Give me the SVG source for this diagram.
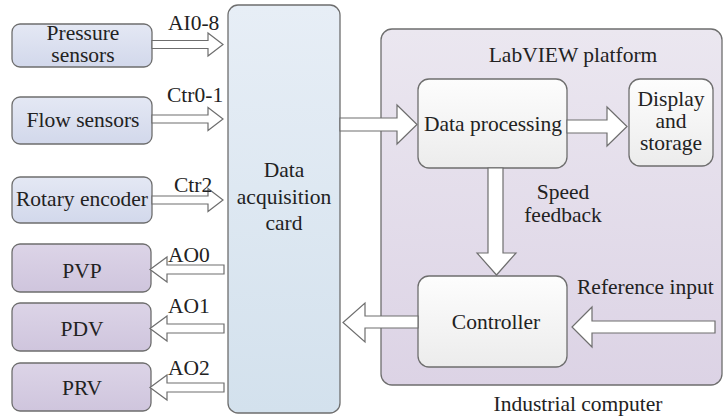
<svg xmlns="http://www.w3.org/2000/svg" width="727" height="420" viewBox="0 0 727 420">
<defs>
<linearGradient id="gBlue" x1="0" y1="0" x2="0" y2="1"><stop offset="0" stop-color="#e4e8f4"/><stop offset="1" stop-color="#d2d8eb"/></linearGradient>
<linearGradient id="gLav" x1="0" y1="0" x2="0" y2="1"><stop offset="0" stop-color="#dcd4e7"/><stop offset="1" stop-color="#cfc5dd"/></linearGradient>
<linearGradient id="gDaq" x1="0" y1="0" x2="0" y2="1"><stop offset="0" stop-color="#e7eef6"/><stop offset="1" stop-color="#d3e1ed"/></linearGradient>
<linearGradient id="gPc" x1="0" y1="0" x2="0" y2="1"><stop offset="0" stop-color="#ebe7f0"/><stop offset="1" stop-color="#dcd3e5"/></linearGradient>
<linearGradient id="gWhite" x1="0" y1="0" x2="0" y2="1"><stop offset="0" stop-color="#fdfdfd"/><stop offset="1" stop-color="#ececec"/></linearGradient>
</defs>
<style>
.box{stroke:#6e6e6e;stroke-width:1.3}
text{font-family:'Liberation Serif','Times New Roman',serif;font-size:21.5px;fill:#222}
.m{text-anchor:middle}
.arr{fill:#ffffff;stroke:#6e6e6e;stroke-width:1.2;stroke-linejoin:miter}
</style>

<g id="industrial-computer">
<rect class="box" x="381" y="29" width="341" height="356" rx="11" fill="url(#gPc)"/>
<text class="m" x="573" y="62">LabVIEW platform</text>
<text class="m" x="578" y="411">Industrial computer</text>
</g>

<g id="pressure-sensors">
<rect class="box" x="12" y="24" width="140" height="43" rx="8" fill="url(#gBlue)"/>
<text class="m" x="83" y="40">Pressure</text>
<text class="m" x="83" y="62">sensors</text>
</g>
<g id="flow-sensors">
<rect class="box" x="12" y="97" width="140" height="47" rx="8" fill="url(#gBlue)"/>
<text class="m" x="83" y="127">Flow sensors</text>
</g>
<g id="rotary-encoder">
<rect class="box" x="12" y="177" width="140" height="46" rx="8" fill="url(#gBlue)"/>
<text class="m" x="82" y="206">Rotary encoder</text>
</g>
<g id="pvp">
<rect class="box" x="12" y="244" width="139" height="48" rx="8" fill="url(#gLav)"/>
<text class="m" x="82" y="278">PVP</text>
</g>
<g id="pdv">
<rect class="box" x="12" y="303" width="139" height="48" rx="8" fill="url(#gLav)"/>
<text class="m" x="82" y="336">PDV</text>
</g>
<g id="prv">
<rect class="box" x="12" y="363" width="139" height="48" rx="8" fill="url(#gLav)"/>
<text class="m" x="82" y="395">PRV</text>
</g>

<g id="daq-card">
<rect class="box" x="228" y="5" width="112" height="408" rx="10" fill="url(#gDaq)"/>
<text class="m" x="284" y="177">Data</text>
<text class="m" x="284" y="204">acquisition</text>
<text class="m" x="284" y="230">card</text>
</g>

<g id="data-processing">
<rect class="box" x="418" y="79" width="149" height="89" rx="11" fill="url(#gWhite)"/>
<text class="m" x="493" y="131">Data processing</text>
</g>
<g id="display-storage">
<rect class="box" x="629" y="79" width="84" height="87" rx="11" fill="url(#gWhite)"/>
<text class="m" x="671" y="106">Display</text>
<text class="m" x="671" y="128">and</text>
<text class="m" x="671" y="150">storage</text>
</g>
<g id="controller">
<rect class="box" x="418" y="276" width="149" height="91" rx="11" fill="url(#gWhite)"/>
<text class="m" x="496" y="329">Controller</text>
</g>

<g id="connectors">
<polygon class="arr" points="152,40.5 208,40.5 208,33 223,44.5 208,56 208,48.5 152,48.5"/>
<polygon class="arr" points="152,115 208,115 208,107.5 223,119 208,130.5 208,123 152,123"/>
<polygon class="arr" points="152,196 208,196 208,188.5 223,200 208,211.5 208,204 152,204"/>
<polygon class="arr" points="224,265 167,265 167,257 150,269.5 167,282 167,274 224,274"/>
<polygon class="arr" points="224,324 167,324 167,316 150,328.5 167,341 167,333 224,333"/>
<polygon class="arr" points="224,383 167,383 167,375 150,387.5 167,400 167,392 224,392"/>
<polygon class="arr" points="340,118 397,118 397,105 417,124.5 397,144 397,131 340,131"/>
<polygon class="arr" points="567,120 607,120 607,107 627,126.5 607,146 607,133 567,133"/>
<polygon class="arr" points="488,168 488,253 477,253 496.5,275 516,253 503,253 503,168"/>
<polygon class="arr" points="418,316 365,316 365,303 343,322.5 365,342 365,328 418,328"/>
<polygon class="arr" points="715,321 592,321 592,307 572,327 592,347 592,333 715,333"/>
<text x="168" y="30">AI0-8</text>
<text x="167" y="102">Ctr0-1</text>
<text x="174" y="192">Ctr2</text>
<text x="168" y="262">AO0</text>
<text x="168" y="313">AO1</text>
<text x="168" y="375">AO2</text>
<text class="m" x="563" y="199">Speed</text>
<text class="m" x="563" y="222">feedback</text>
<text x="577" y="294">Reference input</text>
</g>
</svg>
